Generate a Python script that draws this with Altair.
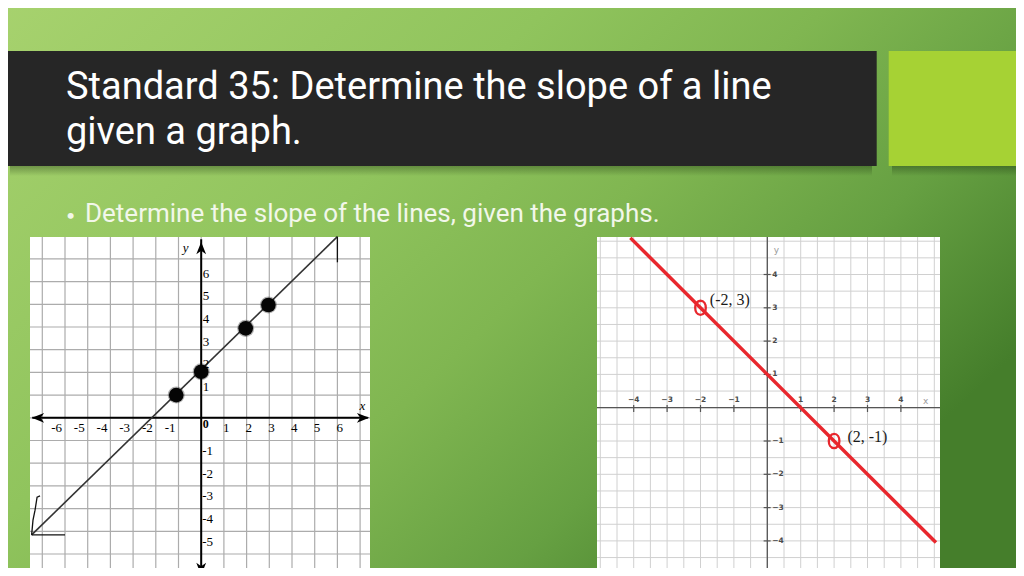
import altair as alt
import pandas as pd

# ---------------- data ----------------
TITLE_LINES = ["Standard 35: Determine the slope of a line", "given a graph."]
BULLET = "Determine the slope of the lines, given the graphs."

# left graph (math units)
L_GRID = list(range(-7, 8))
L_XTICKS = [-6, -5, -4, -3, -2, -1, 1, 2, 3, 4, 5, 6]
L_YTICKS = [-5, -4, -3, -2, -1, 1, 2, 3, 4, 5, 6]
L_LINE_X = [-7.47, 6.0]
L_LINE_Y = [-5.16, 7.98]
L_DOTS_X = [-1.1, 0.0, 1.96, 2.96]
L_DOTS_Y = [1.0, 2.03, 3.94, 4.97]
# hand-drawn slope marks
L_RISE_X = [-7.47, -7.41, -7.32, -7.23, -7.10]
L_RISE_Y = [-5.16, -4.51, -4.07, -3.50, -3.44]
L_RUN_X = [-7.47, -6.0]
L_RUN_Y = [-5.16, -5.16]
L_TOP_X = [6.0, 6.0]
L_TOP_Y = [7.98, 6.85]

# right graph (math units)
R_GRID = [i / 2 for i in range(-10, 11)]
R_TICKS = [-4, -3, -2, -1, 1, 2, 3, 4]
R_LINE_X = [-4.1, 5.05]
R_LINE_Y = [5.1, -4.05]
R_PTS_X = [-2, 2]
R_PTS_Y = [3, -1]
R_PT_LABELS = ["(-2, 3)", "(2, -1)"]
R_LABEL_X = [-1.72, 2.40]
R_LABEL_Y = [3.23, -0.87]

# ---------------- layout (pixels of the slide) ----------------
OFF = 8  # page margin
W, H = 1008, 560
PX = alt.Scale(domain=[OFF, OFF + W], range=[0, W])
PY = alt.Scale(domain=[OFF, OFF + H], range=[0, H])

LOX, LOY, LU = 201.2, 417.8, 22.7
LPANEL = (30, 237, 370, 580)
ROX, ROY, RUX, RUY = 767.3, 407.7, 33.4, 33.3
RPANEL = (597, 237, 940, 580)

LSX = alt.Scale(domain=[-7, 7], range=[LOX - 7 * LU - OFF, LOX + 7 * LU - OFF], nice=False, zero=False)
LSY = alt.Scale(domain=[-7, 7], range=[LOY + 7 * LU - OFF, LOY - 7 * LU - OFF], nice=False, zero=False)
RSX = alt.Scale(domain=[-5, 5], range=[ROX - 5 * RUX - OFF, ROX + 5 * RUX - OFF], nice=False, zero=False)
RSY = alt.Scale(domain=[-5, 5], range=[ROY + 5 * RUY - OFF, ROY - 5 * RUY - OFF], nice=False, zero=False)

lxlo, lxhi = (LPANEL[0] - LOX) / LU, (LPANEL[2] - LOX) / LU
lyhi, lylo = (LOY - LPANEL[1]) / LU, (LOY - LPANEL[3]) / LU
rxlo, rxhi = (RPANEL[0] - ROX) / RUX, (RPANEL[2] - ROX) / RUX
ryhi, rylo = (ROY - RPANEL[1]) / RUY, (ROY - RPANEL[3]) / RUY


def pxrect(df, **kw):
    return alt.Chart(df).mark_rect(**kw).encode(
        x=alt.X("x:Q", scale=PX, axis=None), x2="x2:Q",
        y=alt.Y("y:Q", scale=PY, axis=None), y2="y2:Q")


def pxtext(df, **kw):
    return alt.Chart(df).mark_text(**kw).encode(
        x=alt.X("x:Q", scale=PX, axis=None), y=alt.Y("y:Q", scale=PY, axis=None), text="t:N")


bg_grad = {"gradient": "linear", "x1": 0, "y1": 0, "x2": 1, "y2": 0.6,
           "stops": [{"offset": 0, "color": "#a7d26e"},
                     {"offset": 0.4, "color": "#90c45d"},
                     {"offset": 0.6, "color": "#80b651"},
                     {"offset": 0.8, "color": "#66a042"},
                     {"offset": 1, "color": "#457e2b"}]}
shadow_grad = {"gradient": "linear", "x1": 0, "y1": 0, "x2": 0, "y2": 1,
               "stops": [{"offset": 0, "color": "rgba(20,40,10,0.35)"},
                         {"offset": 1, "color": "rgba(20,40,10,0)"}]}

bg = pxrect(pd.DataFrame({"x": [0], "x2": [1024], "y": [0], "y2": [576]}), color=bg_grad)
shadow = pxrect(pd.DataFrame({"x": [10, 892], "x2": [872, 1024], "y": [166, 166], "y2": [176, 176]}), color=shadow_grad)
bar = pxrect(pd.DataFrame({"x": [0], "x2": [876.7], "y": [51], "y2": [166]}), color="#262626")
lime = pxrect(pd.DataFrame({"x": [888.7], "x2": [1024], "y": [51], "y2": [166]}), color="#a6d234")
panels = pxrect(pd.DataFrame({"x": [LPANEL[0], RPANEL[0]], "x2": [LPANEL[2], RPANEL[2]],
                              "y": [LPANEL[1], RPANEL[1]], "y2": [LPANEL[3], RPANEL[3]]}), color="#ffffff")

TFONT = "Roboto"
title = pxtext(pd.DataFrame({"x": [66, 66], "y": [98.8, 143.5], "t": TITLE_LINES}),
               align="left", baseline="alphabetic", font=TFONT, fontSize=38, color="#ffffff")
bullet_dot = pxtext(pd.DataFrame({"x": [66], "y": [220.5], "t": ["•"]}),
                    align="left", baseline="alphabetic", font="Lato", fontSize=16, color="#f2f7ea")
bullet = pxtext(pd.DataFrame({"x": [85], "y": [221.7], "t": [BULLET]}),
                align="left", baseline="alphabetic", font=TFONT, fontSize=26, color="#f2f7ea")

deco = alt.layer(bg, shadow, bar, lime, panels, title, bullet_dot, bullet)


# ---------------- left graph ----------------
def lenc(ch, **extra):
    return ch.encode(x=alt.X("x:Q", scale=LSX, axis=None), y=alt.Y("y:Q", scale=LSY, axis=None), **extra)


lv = alt.Chart(pd.DataFrame({"x": L_GRID, "y": lylo, "y2": lyhi})).mark_rule(
    color="#acacac", strokeWidth=1.2).encode(
    x=alt.X("x:Q", scale=LSX, axis=None), y=alt.Y("y:Q", scale=LSY, axis=None), y2="y2:Q")
lh = alt.Chart(pd.DataFrame({"y": L_GRID, "x": lxlo, "x2": lxhi})).mark_rule(
    color="#acacac", strokeWidth=1.2).encode(
    x=alt.X("x:Q", scale=LSX, axis=None), x2="x2:Q", y=alt.Y("y:Q", scale=LSY, axis=None))
lax = alt.Chart(pd.DataFrame({"x": [lxlo + 0.1, 0], "x2": [lxhi - 0.1, 0],
                              "y": [0, lylo + 0.1], "y2": [0, lyhi - 0.1]})).mark_rule(
    color="#000000", strokeWidth=2).encode(
    x=alt.X("x:Q", scale=LSX, axis=None), x2="x2:Q", y=alt.Y("y:Q", scale=LSY, axis=None), y2="y2:Q")

ARROWS = pd.DataFrame({
    "x": [-7.19, 7.13, 0, 0],
    "y": [0, 0, 7.48, -6.66],
    "shape": ["M-1,0L1,-0.8L0.45,0L1,0.8Z", "M1,0L-1,-0.8L-0.45,0L-1,0.8Z",
              "M0,-1L-0.8,1L0,0.45L0.8,1Z", "M0,1L-0.8,-1L0,-0.45L0.8,-1Z"]})
larrows = lenc(alt.Chart(ARROWS).mark_point(filled=True, color="#000000", opacity=1, size=150),
               shape=alt.Shape("shape:N", scale=None))

lline = lenc(alt.Chart(pd.DataFrame({"x": L_LINE_X, "y": L_LINE_Y})).mark_line(color="#333333", strokeWidth=1.6))
dots = pd.DataFrame({"x": L_DOTS_X, "y": L_DOTS_Y})
lhalo = lenc(alt.Chart(dots).mark_circle(color="#000000", opacity=0.3, size=290))
ldots = lenc(alt.Chart(dots).mark_circle(color="#050505", opacity=1, size=215))

marks_df = pd.concat([
    pd.DataFrame({"x": L_RISE_X, "y": L_RISE_Y, "g": "rise", "o": range(len(L_RISE_X))}),
    pd.DataFrame({"x": L_RUN_X, "y": L_RUN_Y, "g": "run", "o": range(2)}),
    pd.DataFrame({"x": L_TOP_X, "y": L_TOP_Y, "g": "top", "o": range(2)}),
])
lmarks = lenc(alt.Chart(marks_df).mark_line(color="#111111", strokeWidth=1.3),
              detail="g:N", order="o:Q")

serif = "Liberation Serif"
lxt_pos = lenc(alt.Chart(pd.DataFrame({"x": [v for v in L_XTICKS if v > 0], "y": 0,
                                       "t": [str(v) for v in L_XTICKS if v > 0]})).mark_text(
    align="left", baseline="alphabetic", dx=-1, dy=14.2, font=serif, fontSize=13, color="#000"), text="t:N")
lxt_neg = lenc(alt.Chart(pd.DataFrame({"x": [v for v in L_XTICKS if v < 0], "y": 0,
                                       "t": [str(v) for v in L_XTICKS if v < 0]})).mark_text(
    align="right", baseline="alphabetic", dx=-3, dy=14.2, font=serif, fontSize=13, color="#000"), text="t:N")
lyt_pos = lenc(alt.Chart(pd.DataFrame({"x": 0, "y": [v for v in L_YTICKS if v > 0],
                                       "t": [str(v) for v in L_YTICKS if v > 0]})).mark_text(
    align="left", baseline="alphabetic", dx=1.5, dy=-4, font=serif, fontSize=13, color="#000"), text="t:N")
lyt_neg = lenc(alt.Chart(pd.DataFrame({"x": 0, "y": [v for v in L_YTICKS if v < 0],
                                       "t": [str(v) for v in L_YTICKS if v < 0]})).mark_text(
    align="left", baseline="alphabetic", dx=1, dy=14.5, font=serif, fontSize=13, color="#000"), text="t:N")
lzero = lenc(alt.Chart(pd.DataFrame({"x": [0], "y": [0], "t": ["0"]})).mark_text(
    align="left", baseline="alphabetic", dx=1.5, dy=10, font=serif, fontSize=12, fontWeight="bold", color="#000"),
    text="t:N")
lxy = lenc(alt.Chart(pd.DataFrame({"x": [7.10, -0.68], "y": [0.52, 7.47], "t": ["x", "y"]})).mark_text(
    align="center", baseline="middle", font=serif, fontSize=13, fontStyle="italic", color="#000"), text="t:N")

left = alt.layer(lv, lh, lax, larrows, lline, lhalo, ldots, lmarks,
                 lxt_pos, lxt_neg, lyt_pos, lyt_neg, lzero, lxy)


# ---------------- right graph ----------------
def renc(ch, **extra):
    return ch.encode(x=alt.X("x:Q", scale=RSX, axis=None), y=alt.Y("y:Q", scale=RSY, axis=None), **extra)


rv = alt.Chart(pd.DataFrame({"x": R_GRID, "y": rylo, "y2": ryhi})).mark_rule(
    color="#d0d0d0", strokeWidth=1).encode(
    x=alt.X("x:Q", scale=RSX, axis=None), y=alt.Y("y:Q", scale=RSY, axis=None), y2="y2:Q")
rh = alt.Chart(pd.DataFrame({"y": R_GRID, "x": rxlo, "x2": rxhi})).mark_rule(
    color="#d0d0d0", strokeWidth=1).encode(
    x=alt.X("x:Q", scale=RSX, axis=None), x2="x2:Q", y=alt.Y("y:Q", scale=RSY, axis=None))
rax = alt.Chart(pd.DataFrame({"x": [rxlo, 0], "x2": [rxhi, 0], "y": [0, rylo], "y2": [0, ryhi]})).mark_rule(
    color="#555555", strokeWidth=1.3).encode(
    x=alt.X("x:Q", scale=RSX, axis=None), x2="x2:Q", y=alt.Y("y:Q", scale=RSY, axis=None), y2="y2:Q")
rxtick = alt.Chart(pd.DataFrame({"x": R_TICKS, "y": -0.13, "y2": 0.08})).mark_rule(
    color="#555555", strokeWidth=1.2).encode(
    x=alt.X("x:Q", scale=RSX, axis=None), y=alt.Y("y:Q", scale=RSY, axis=None), y2="y2:Q")
rytick = alt.Chart(pd.DataFrame({"y": R_TICKS, "x": -0.11, "x2": 0.1})).mark_rule(
    color="#555555", strokeWidth=1.2).encode(
    x=alt.X("x:Q", scale=RSX, axis=None), x2="x2:Q", y=alt.Y("y:Q", scale=RSY, axis=None))


def lab(v):
    return ("\u2212" + str(-v)) if v < 0 else str(v)


sans = "DejaVu Sans"
rxt = renc(alt.Chart(pd.DataFrame({"x": R_TICKS, "y": 0, "t": [lab(v) for v in R_TICKS]})).mark_text(
    align="center", baseline="middle", dy=-8, font=sans, fontSize=7.5, fontWeight="bold", color="#4a4a4a"),
    text="t:N")
ryt = renc(alt.Chart(pd.DataFrame({"x": 0, "y": R_TICKS, "t": [lab(v) for v in R_TICKS]})).mark_text(
    align="left", baseline="middle", dx=5, font=sans, fontSize=7.5, fontWeight="bold", color="#4a4a4a"),
    text="t:N")
rxy = renc(alt.Chart(pd.DataFrame({"x": [4.74, 0.27], "y": [0.21, 4.73], "t": ["x", "y"]})).mark_text(
    align="center", baseline="middle", font=sans, fontSize=9, color="#9a9a9a"), text="t:N")

rline = renc(alt.Chart(pd.DataFrame({"x": R_LINE_X, "y": R_LINE_Y})).mark_line(
    color="#e8272d", strokeWidth=3.5, strokeCap="butt"))
ELLIPSE = "M0,-1C1,-1 1,1 0,1C-1,1 -1,-1 0,-1Z"
rpts = renc(alt.Chart(pd.DataFrame({"x": R_PTS_X, "y": R_PTS_Y})).mark_point(
    shape=ELLIPSE, filled=False, color="#e8272d", strokeWidth=2.3, size=200, opacity=1))
rlabels = renc(alt.Chart(pd.DataFrame({"x": R_LABEL_X, "y": R_LABEL_Y, "t": R_PT_LABELS})).mark_text(
    align="left", baseline="middle", font=serif, fontSize=16, color="#1a1a1a"), text="t:N")

right = alt.layer(rv, rh, rax, rxtick, rytick, rxt, ryt, rxy, rline, rpts, rlabels)

chart = alt.layer(deco, left, right).resolve_scale(x="independent", y="independent").properties(
    width=W, height=H, autosize=alt.AutoSizeParams(type="none"), padding=0,
).configure_view(stroke=None).configure(background="#8cc15a")

chart.save("out.html", embed_options={"renderer": "svg", "actions": False})
